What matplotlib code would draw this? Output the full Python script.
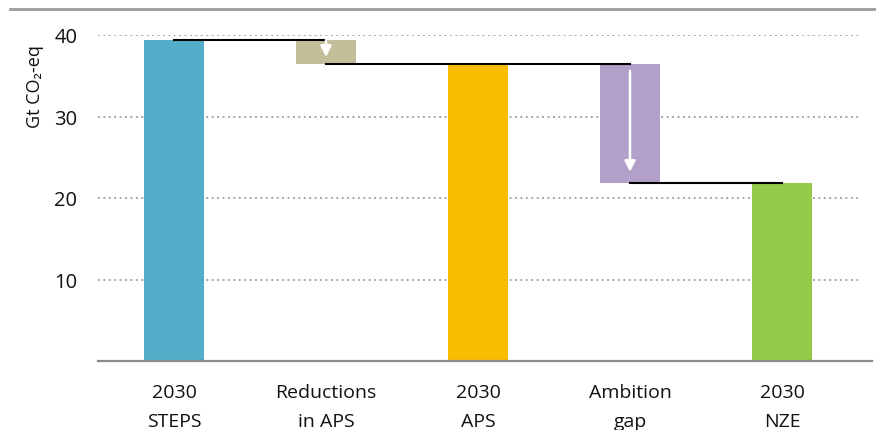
import matplotlib
matplotlib.use("Agg")
from matplotlib import pyplot as plt
from matplotlib.lines import Line2D

# data
categories = ["2030\nSTEPS", "Reductions\nin APS", "2030\nAPS", "Ambition\ngap", "2030\nNZE"]
steps_2030 = 39.4
aps_2030 = 36.4
nze_2030 = 21.9
colors = ["#52AEC9", "#C3BE99", "#F8BD00", "#B1A0CA", "#93CB48"]
yticks = [10, 20, 30, 40]

plt.rcParams['font.family'] = ['Open Sans', 'DejaVu Sans']

bottoms = [0, aps_2030, 0, nze_2030, 0]
tops = [steps_2030, steps_2030, aps_2030, aps_2030, nze_2030]
heights = [t - b for t, b in zip(tops, bottoms)]
xs = list(range(len(categories)))

fig = plt.figure(figsize=(8.76, 4.31), dpi=100)
ax = fig.add_axes([98 / 876, 69 / 431, 760 / 876, 326 / 431])

ax.bar(xs, heights, bottom=bottoms, width=0.4, color=colors, zorder=2)

# connectors between bars, centre to centre
ax.plot([xs[0], xs[1]], [steps_2030, steps_2030], color="black", lw=1.5, zorder=3)
ax.plot([xs[1], xs[3]], [aps_2030, aps_2030], color="black", lw=1.5, zorder=3)
ax.plot([xs[3], xs[4]], [nze_2030, nze_2030], color="black", lw=1.5, zorder=3)

# white arrows in the change bars
ax.annotate("", xy=(xs[1], aps_2030 + 0.9), xytext=(xs[1], steps_2030),
            arrowprops=dict(arrowstyle="-|>", color="white", lw=1.8, mutation_scale=16,
                            shrinkA=0, shrinkB=0), zorder=4)
ax.annotate("", xy=(xs[3], nze_2030 + 1.3), xytext=(xs[3], aps_2030 - 0.8),
            arrowprops=dict(arrowstyle="-|>", color="white", lw=1.8, mutation_scale=16,
                            shrinkA=0, shrinkB=0), zorder=4)

ax.set_xlim(-0.5, 4.5)
ax.set_ylim(0, 40)
ax.set_yticks(yticks)
ax.set_xticks(xs)
ax.set_xticklabels(categories, fontsize=14, linespacing=1.8)
ax.tick_params(axis="y", labelsize=14.5, length=0, pad=15, colors="#111111")
ax.tick_params(axis="x", length=0, pad=16, colors="#111111")
ax.grid(axis="y", color="#9A9A9A", linestyle=(0, (1, 2)), lw=1.3, zorder=0)
for s in ax.spines.values():
    s.set_visible(False)

# bottom axis line (runs a little past the grid)
ax.add_line(Line2D([0, 1.018], [0, 0], transform=ax.transAxes, color="#8A8A8A",
                   lw=1.6, clip_on=False))

# top rule
fig.add_artist(Line2D([10 / 876, 1.0], [1 - 10 / 431, 1 - 10 / 431],
                      transform=fig.transFigure, color="#9A9A9A", lw=2))

fig.text(35 / 876, 1 - 87 / 431, "Gt CO₂-eq", rotation=90, ha="center", va="center",
         fontsize=13, color="#111111")

fig.savefig("out.png", dpi=100)
